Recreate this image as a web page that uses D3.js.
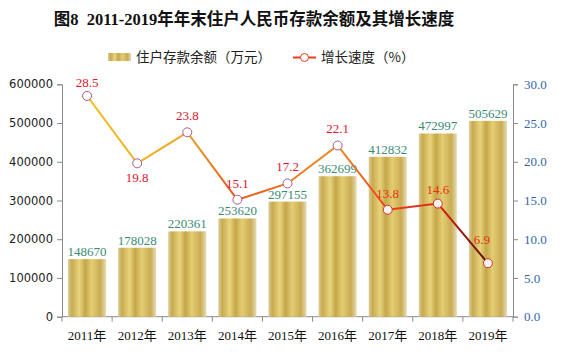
<!doctype html>
<html lang="zh">
<head>
<meta charset="utf-8">
<title>住户人民币存款余额及其增长速度</title>
<style>
  body { margin: 0; background: #fff; }
  svg { display: block; }
</style>
</head>
<body>
<svg></svg>
<script src="https://cdn.jsdelivr.net/npm/d3@7/dist/d3.min.js"></script>
<script>
  // 数据
  var years = ['2011年', '2012年', '2013年', '2014年', '2015年', '2016年', '2017年', '2018年', '2019年'];
  var deposits = [148670, 178028, 220361, 253620, 297155, 362699, 412832, 472997, 505629];
  var growth = [28.5, 19.8, 23.8, 15.1, 17.2, 22.1, 13.8, 14.6, 6.9];
  var leftTicks = [0, 100000, 200000, 300000, 400000, 500000, 600000];
  var rightTicks = [0, 5, 10, 15, 20, 25, 30];

  var width = 562, height = 354;
  var plotLeft = 62, plotRight = 513, plotTop = 84.3, plotBottom = 316.7;
  var serif = '"Liberation Serif", "Noto Sans CJK SC", serif';
  // 增长速度标签相对于点的偏移 [dx, dy]
  var growthLabelShift = [[0, -9], [0, 19], [0, -12], [0, -12], [0, -12], [0, -12], [0, -12], [0, -10], [-6, -19]];

  var svg = d3.select('svg').attr('width', width).attr('height', height);
  var defs = svg.append('defs');

  // 柱子的金色渐变
  var bg = defs.append('linearGradient').attr('id', 'barGrad')
    .attr('x1', 0).attr('x2', 1).attr('y1', 0).attr('y2', 0);
  [[0, '#dccf9e'], [0.1, '#c8aa50'], [0.3, '#e8d47c'], [0.45, '#c5a64a'],
   [0.62, '#e4cd72'], [0.85, '#c9ac54'], [1, '#e6dcb6']].forEach(function (s) {
    bg.append('stop').attr('offset', s[0]).attr('stop-color', s[1]);
  });

  var x = d3.scaleBand().domain(years).range([plotLeft, plotRight])
    .paddingInner(0.24).paddingOuter(0.12);
  var yL = d3.scaleLinear().domain([0, 600000]).range([plotBottom, plotTop]);
  var yR = d3.scaleLinear().domain([0, 30]).range([plotBottom, plotTop]);
  var cx = function (d) { return x(d) + x.bandwidth() / 2; };

  // 折线渐变（沿x方向）
  var lg = defs.append('linearGradient').attr('id', 'lineGrad')
    .attr('gradientUnits', 'userSpaceOnUse')
    .attr('x1', cx(years[0])).attr('x2', cx(years[8])).attr('y1', 0).attr('y2', 0);
  [[0, '#f4c020'], [0.25, '#f0a428'], [0.36, '#e85a1c'], [0.45, '#ee6a1e'],
   [0.62, '#f08c22'], [0.75, '#e8401a'], [0.87, '#e0241a'], [1, '#5a1008']].forEach(function (s) {
    lg.append('stop').attr('offset', s[0]).attr('stop-color', s[1]);
  });

  // 标题
  svg.append('text')
    .attr('x', 254).attr('y', 25)
    .attr('text-anchor', 'middle')
    .attr('font-family', serif)
    .attr('font-size', 16.5).attr('font-weight', 'bold')
    .attr('fill', '#111')
    .style('white-space', 'pre')
    .text('图8  2011-2019年年末住户人民币存款余额及其增长速度');

  // 图例
  var legend = svg.append('g').attr('font-family', '"Noto Sans CJK SC", sans-serif')
    .attr('font-size', 13.5).attr('fill', '#222');
  legend.append('rect').attr('x', 108).attr('y', 53).attr('width', 23).attr('height', 8)
    .attr('fill', 'url(#barGrad)');
  legend.append('text').attr('x', 136).attr('y', 62).text('住户存款余额（万元）');
  legend.append('line').attr('x1', 293).attr('x2', 316).attr('y1', 57.5).attr('y2', 57.5)
    .attr('stroke', '#e8401a').attr('stroke-width', 2);
  legend.append('circle').attr('cx', 304.5).attr('cy', 57.5).attr('r', 4)
    .attr('fill', '#fff').attr('stroke', '#e8401a');
  legend.append('text').attr('x', 321).attr('y', 62).text('增长速度（%）');

  // 坐标轴
  var axisColor = '#8a8a8a';
  svg.append('g').attr('transform', 'translate(' + plotLeft + ',0)')
    .call(d3.axisLeft(yL).tickValues(leftTicks).tickSize(5).tickPadding(4).tickFormat(d3.format('d')))
    .call(function (g) {
      g.select('.domain').attr('stroke', axisColor);
      g.selectAll('line').attr('stroke', axisColor);
      g.selectAll('text').attr('font-family', '"DejaVu Sans", sans-serif').attr('font-size', 11.5).attr('fill', '#222');
    });

  svg.append('g').attr('transform', 'translate(' + plotRight + ',0)')
    .call(d3.axisRight(yR).tickValues(rightTicks).tickSize(5).tickPadding(6).tickFormat(d3.format('.1f')))
    .call(function (g) {
      g.select('.domain').attr('stroke', axisColor);
      g.selectAll('line').attr('stroke', axisColor);
      g.selectAll('text').attr('font-family', serif).attr('font-size', 13).attr('fill', '#3466aa');
    });

  // 横轴：刻度在类别之间
  var xAxis = svg.append('g').attr('transform', 'translate(0,' + plotBottom + ')');
  xAxis.append('line').attr('x1', plotLeft).attr('x2', plotRight).attr('stroke', axisColor);
  xAxis.selectAll('.tk').data(d3.range(years.length + 1)).enter().append('line')
    .attr('x1', function (i) { return plotLeft + i * (plotRight - plotLeft) / years.length; })
    .attr('x2', function (i) { return plotLeft + i * (plotRight - plotLeft) / years.length; })
    .attr('y1', 0).attr('y2', 5).attr('stroke', axisColor);
  xAxis.selectAll('text').data(years).enter().append('text')
    .attr('x', cx).attr('y', 23)
    .attr('text-anchor', 'middle')
    .attr('font-family', serif).attr('font-size', 13).attr('fill', '#111')
    .text(function (d) { return d; });

  // 柱子
  svg.append('g').selectAll('rect').data(deposits).enter().append('rect')
    .attr('x', function (d, i) { return x(years[i]); })
    .attr('y', function (d) { return yL(d); })
    .attr('width', x.bandwidth())
    .attr('height', function (d) { return plotBottom - yL(d); })
    .attr('fill', 'url(#barGrad)');

  svg.append('g').selectAll('text').data(deposits).enter().append('text')
    .attr('x', function (d, i) { return cx(years[i]); })
    .attr('y', function (d) { return yL(d) - 3; })
    .attr('text-anchor', 'middle')
    .attr('font-family', serif).attr('font-size', 13).attr('fill', '#3a8a76')
    .text(function (d) { return d; });

  // 折线
  svg.append('path').datum(growth)
    .attr('fill', 'none')
    .attr('stroke', 'url(#lineGrad)')
    .attr('stroke-width', 2)
    .attr('d', d3.line()
      .x(function (d, i) { return cx(years[i]); })
      .y(function (d) { return yR(d); }));

  svg.append('g').selectAll('circle').data(growth).enter().append('circle')
    .attr('cx', function (d, i) { return cx(years[i]); })
    .attr('cy', function (d) { return yR(d); })
    .attr('r', 4.5)
    .attr('fill', function (d, i) { return i < 6 ? '#fff' : '#fdf0f2'; })
    .attr('stroke', function (d, i) { return i < 6 ? '#a85a8c' : '#c03a2a'; })
    .attr('stroke-width', 1);

  svg.append('g').selectAll('text').data(growth).enter().append('text')
    .attr('x', function (d, i) { return cx(years[i]) + growthLabelShift[i][0]; })
    .attr('y', function (d, i) { return yR(d) + growthLabelShift[i][1]; })
    .attr('text-anchor', 'middle')
    .attr('font-family', serif).attr('font-size', 13)
    .attr('fill', function (d, i) { return i < 6 ? '#e0142c' : '#e8300e'; })
    .text(function (d) { return d.toFixed(1); });
</script>
</body>
</html>
